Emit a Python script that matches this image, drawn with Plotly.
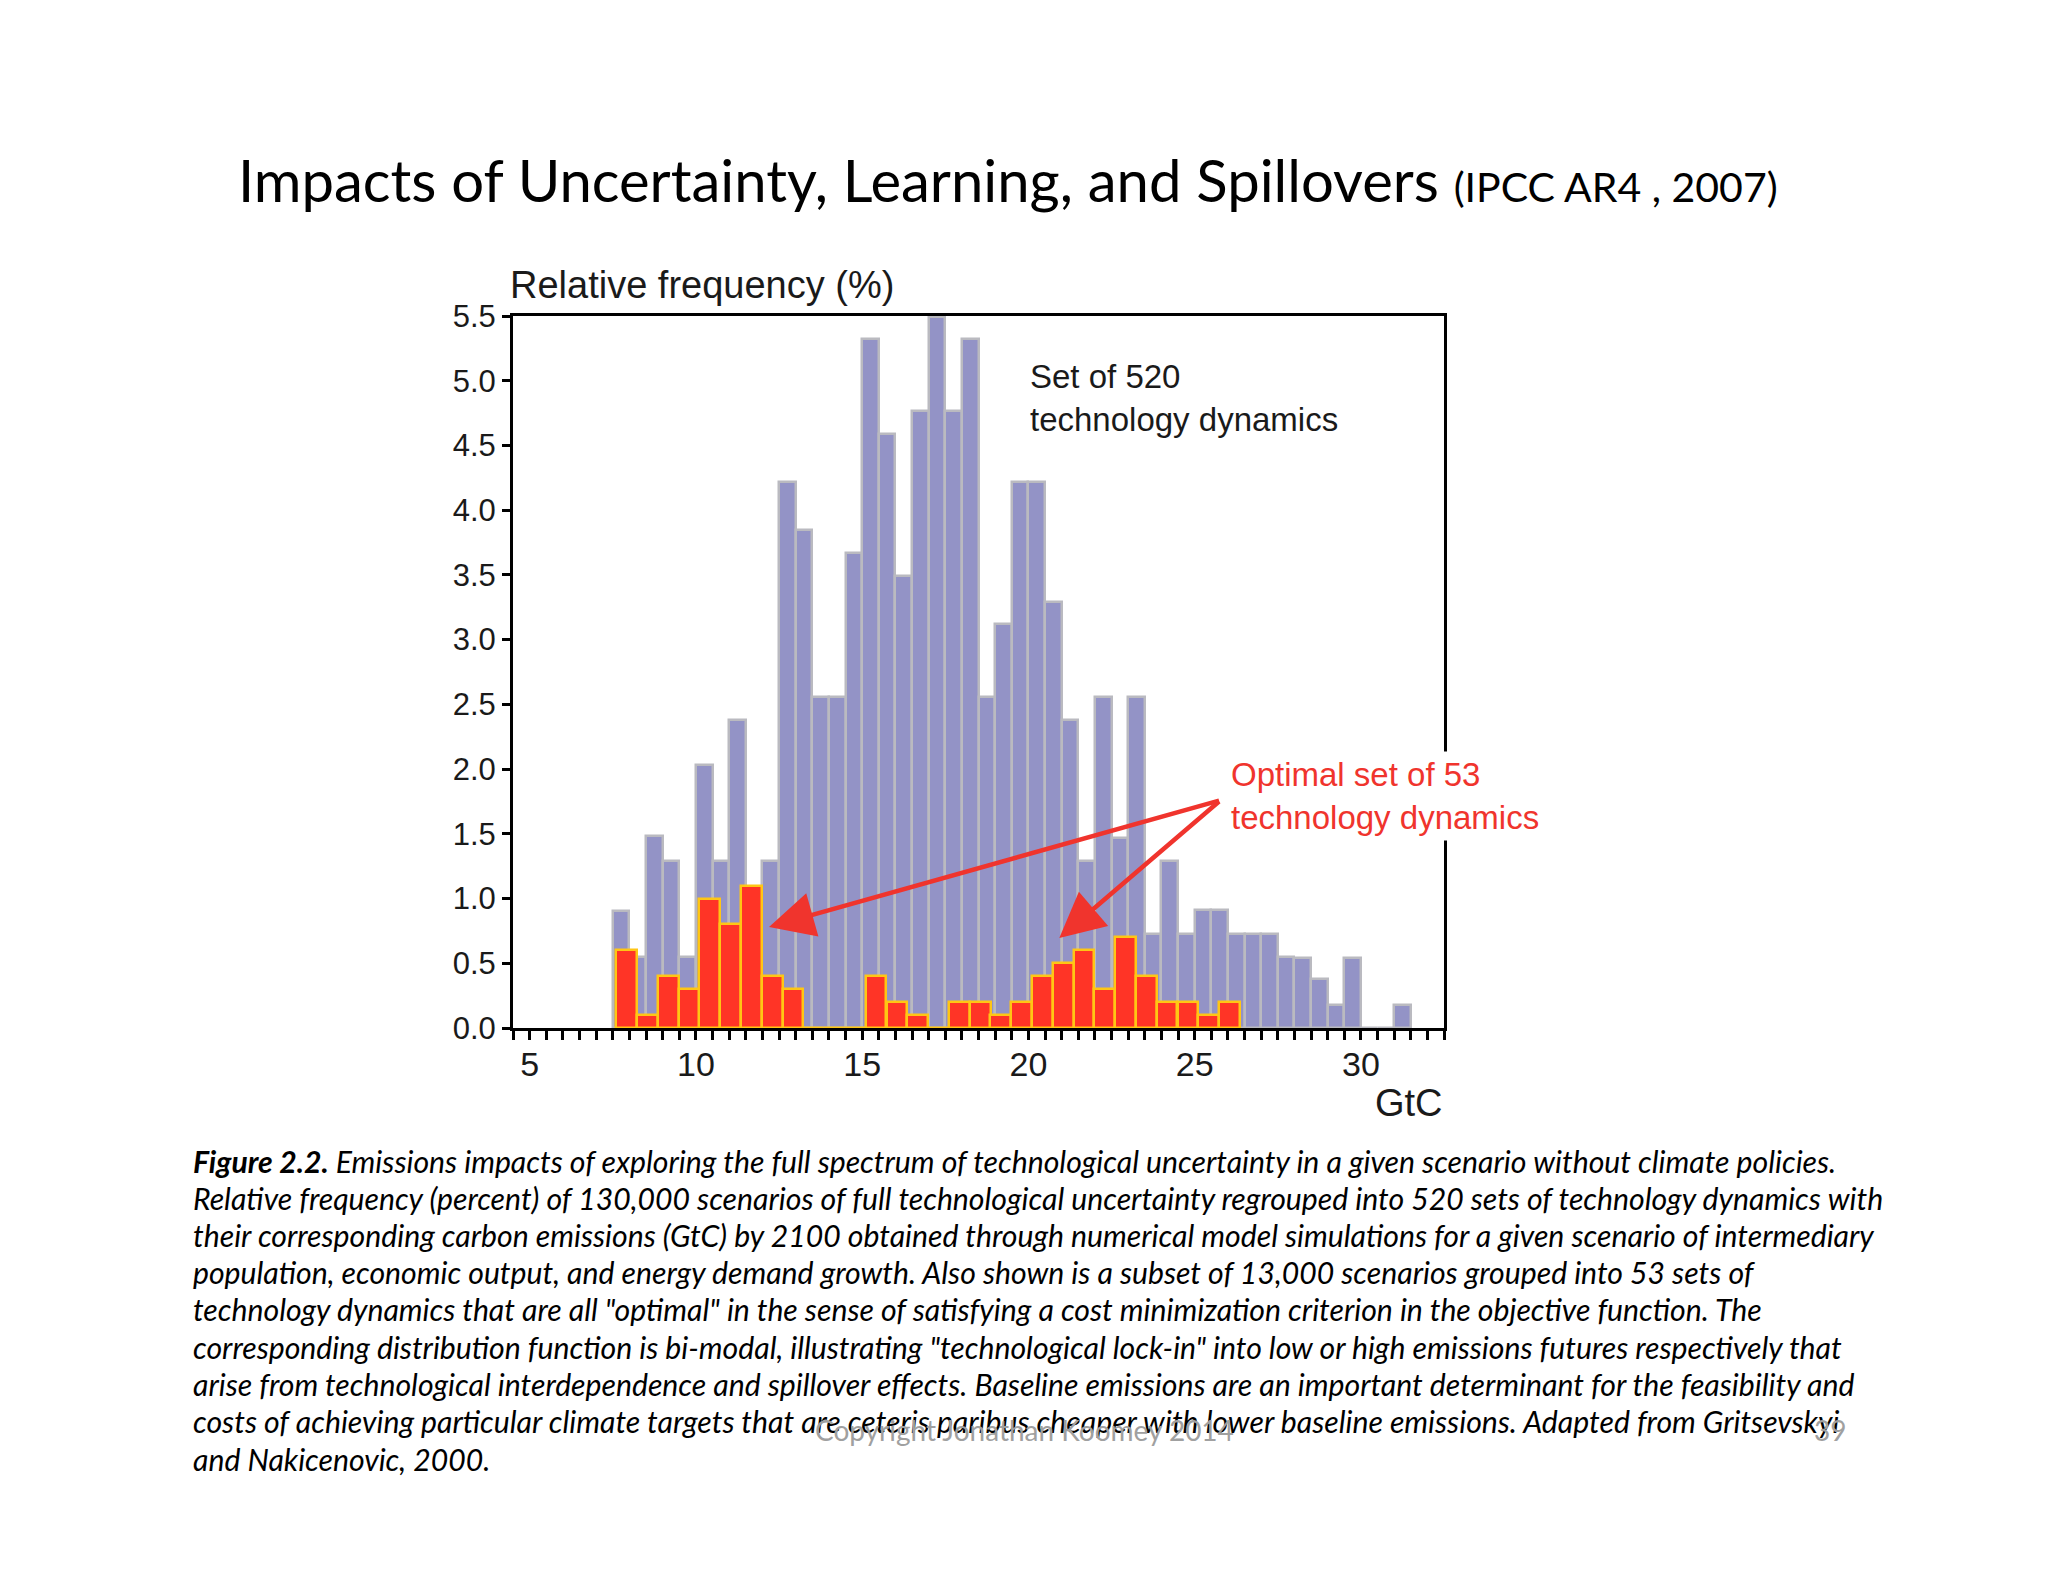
import plotly.graph_objects as go

# ---------------- data ----------------
blue_x = [7.75, 8.25, 8.75, 9.25, 9.75, 10.25, 10.75, 11.25, 11.75, 12.25,
          12.75, 13.25, 13.75, 14.25, 14.75, 15.25, 15.75, 16.25, 16.75, 17.25,
          17.75, 18.25, 18.75, 19.25, 19.75, 20.25, 20.75, 21.25, 21.75, 22.25,
          22.75, 23.25, 23.75, 24.25, 24.75, 25.25, 25.75, 26.25, 26.75, 27.25,
          27.75, 28.25, 28.75, 29.25, 29.75, 30.25, 30.75, 31.25]
blue_y = [0.90, 0.55, 1.48, 1.29, 0.55, 2.03, 1.29, 2.38, 1.00, 1.29,
          4.22, 3.85, 2.56, 2.56, 3.67, 5.32, 4.59, 3.49, 4.77, 5.49,
          4.77, 5.32, 2.56, 3.12, 4.22, 4.22, 3.29, 2.38, 1.29, 2.56,
          1.47, 2.56, 0.73, 1.29, 0.73, 0.91, 0.91, 0.73, 0.73, 0.73,
          0.55, 0.54, 0.38, 0.18, 0.54, 0.0, 0.0, 0.18]
blue_width = 0.5

red_x = [7.92, 8.55, 9.17, 9.80, 10.42, 11.05, 11.67, 12.30, 12.92, 13.55,
         14.17, 14.80, 15.42, 16.05, 16.67, 17.30, 17.92, 18.55, 19.17, 19.80,
         20.42, 21.05, 21.67, 22.30, 22.92, 23.55, 24.17, 24.80, 25.42, 26.05]
red_y = [0.6, 0.1, 0.4, 0.3, 1.0, 0.8, 1.1, 0.4, 0.3, 0.0,
         0.0, 0.0, 0.4, 0.2, 0.1, 0.0, 0.2, 0.2, 0.1, 0.2,
         0.4, 0.5, 0.6, 0.3, 0.7, 0.4, 0.2, 0.2, 0.1, 0.2]
red_width = 0.625

x_tick_vals = [5, 10, 15, 20, 25, 30]
y_tick_vals = [0.0, 0.5, 1.0, 1.5, 2.0, 2.5, 3.0, 3.5, 4.0, 4.5, 5.0, 5.5]

title_main = "Impacts of Uncertainty, Learning, and Spillovers"
title_sub = "(IPCC AR4 , 2007)"
y_title = "Relative frequency (%)"
x_title = "GtC"
label_all = "Set of 520<br>technology dynamics"
label_opt = "Optimal set of 53<br>technology dynamics"
caption_lines = [
    "<b>Figure 2.2.</b> Emissions impacts of exploring the full spectrum of technological uncertainty in a given scenario without climate policies.",
    "Relative frequency (percent) of 130,000 scenarios of full technological uncertainty regrouped into 520 sets of technology dynamics with",
    "their corresponding carbon emissions (GtC) by 2100 obtained through numerical model simulations for a given scenario of intermediary",
    "population, economic output, and energy demand growth. Also shown is a subset of 13,000 scenarios grouped into 53 sets of",
    "technology dynamics that are all \"optimal\" in the sense of satisfying a cost minimization criterion in the objective function. The",
    "corresponding distribution function is bi-modal, illustrating \"technological lock-in\" into low or high emissions futures respectively that",
    "arise from technological interdependence and spillover effects. Baseline emissions are an important determinant for the feasibility and",
    "costs of achieving particular climate targets that are ceteris paribus cheaper with lower baseline emissions. Adapted from Gritsevskyi",
    "and Nakicenovic, 2000.",
]
copyright_text = "Copyright Jonathan Koomey 2014"
page_no = "39"

# ---------------- layout geometry ----------------
OFF = 8                      # browser body margin
W, H = 2048 - 2 * OFF, 1582 - 2 * OFF
PL, PT, PR, PB = 513 - OFF, 316 - OFF, 1444 - OFF, 1028 - OFF


def paper(X, Y):
    """target-image pixel -> paper coordinates"""
    X -= OFF
    Y -= OFF
    return (X - PL) / (PR - PL), (PB - Y) / (PB - PT)


ARIAL = "Liberation Sans, Arial, sans-serif"
CAL = "Lato, Carlito, Calibri, sans-serif"
RED = "rgb(240,52,45)"

fig = go.Figure()
fig.add_trace(go.Bar(
    x=blue_x, y=blue_y, width=blue_width,
    marker=dict(color="rgb(147,147,198)", line=dict(color="rgb(186,186,192)", width=2.5)),
    showlegend=False, hoverinfo="x+y"))
fig.add_trace(go.Bar(
    x=red_x, y=red_y, width=red_width,
    marker=dict(color="rgb(255,52,38)", line=dict(color="rgb(255,198,20)", width=2.5)),
    showlegend=False, hoverinfo="x+y"))

annotations = []

# title
tx, ty = paper(236, 179)
annotations.append(dict(
    xref="paper", yref="paper", x=tx, y=ty, xanchor="left", yanchor="middle",
    text=title_main + " <span style='font-size:41px'>" + title_sub + "</span>",
    showarrow=False, font=dict(family=CAL, size=58, color="black")))

# y-axis title
ax_, ay_ = paper(508, 285)
annotations.append(dict(xref="paper", yref="paper", x=ax_, y=ay_, xanchor="left", yanchor="middle",
                        text=y_title, showarrow=False, font=dict(family=ARIAL, size=38, color="#1a1a1a")))
# x-axis title
gx, gy = paper(1445, 1103)
annotations.append(dict(xref="paper", yref="paper", x=gx, y=gy, xanchor="right", yanchor="middle",
                        text=x_title, showarrow=False, font=dict(family=ARIAL, size=38, color="#1a1a1a")))

# in-plot labels
annotations.append(dict(x=20.0, y=4.87, xref="x", yref="y", xanchor="left", yanchor="middle",
                        text=label_all, showarrow=False, align="left",
                        font=dict(family=ARIAL, size=33, color="#1a1a1a")))

# arrows
tail_x, tail_y = 25.78, 1.76
for tip_x, tip_y in [(12.2, 0.78), (20.93, 0.695)]:
    annotations.append(dict(x=tip_x, y=tip_y, ax=tail_x, ay=tail_y, xref="x", yref="y",
                            axref="x", ayref="y", text="", showarrow=True,
                            arrowhead=2, arrowsize=2.0, arrowwidth=4.5, arrowcolor=RED,
                            standoff=0, startstandoff=0))

annotations.append(dict(x=25.95, y=1.79, xref="x", yref="y", xanchor="left", yanchor="middle",
                        text=label_opt, showarrow=False, align="left", bgcolor="white", borderpad=4,
                        font=dict(family=ARIAL, size=33, color=RED)))

# caption
line_y = [1161, 1198, 1235, 1272, 1309, 1347, 1384, 1421, 1459]
for txt, yy in zip(caption_lines, line_y):
    cx, cy = paper(191, yy)
    annotations.append(dict(xref="paper", yref="paper", x=cx, y=cy, xanchor="left", yanchor="middle",
                            text=txt, showarrow=False,
                            font=dict(family=CAL, size=30.2, color="black", style="italic")))

# footer
fx, fy = paper(1024, 1430)
annotations.append(dict(xref="paper", yref="paper", x=fx, y=fy, xanchor="center", yanchor="middle",
                        text=copyright_text, showarrow=False,
                        font=dict(family=CAL, size=28, color="rgb(160,160,160)")))
px_, py_ = paper(1830, 1430)
annotations.append(dict(xref="paper", yref="paper", x=px_, y=py_, xanchor="center", yanchor="middle",
                        text=page_no, showarrow=False,
                        font=dict(family=CAL, size=28, color="rgb(160,160,160)")))

fig.update_layout(
    width=W, height=H, autosize=False,
    margin=dict(l=PL, r=W - PR, t=PT, b=H - PB, pad=0),
    paper_bgcolor="white", plot_bgcolor="white",
    barmode="overlay", bargap=0,
    annotations=annotations,
)
fig.update_xaxes(
    range=[4.5, 32.5], tickmode="array", tickvals=x_tick_vals,
    ticks="outside", ticklen=9, tickwidth=2.5, tickcolor="black",
    minor=dict(dtick=0.5, tick0=4.5, ticks="outside", ticklen=9, tickwidth=2.5, tickcolor="black"),
    showline=True, linecolor="black", linewidth=3, mirror=True,
    showgrid=False, zeroline=False, ticklabelstandoff=-5,
    tickfont=dict(family=ARIAL, size=34, color="#1a1a1a"),
)
fig.update_yaxes(
    range=[0, 5.5], tickmode="array", tickvals=y_tick_vals, tickformat=".1f",
    ticks="outside", ticklen=8, tickwidth=2.5, tickcolor="black",
    showline=True, linecolor="black", linewidth=3, mirror=True,
    showgrid=False, zeroline=False,
    tickfont=dict(family=ARIAL, size=31, color="#1a1a1a"),
)

fig.write_html("out.html")
